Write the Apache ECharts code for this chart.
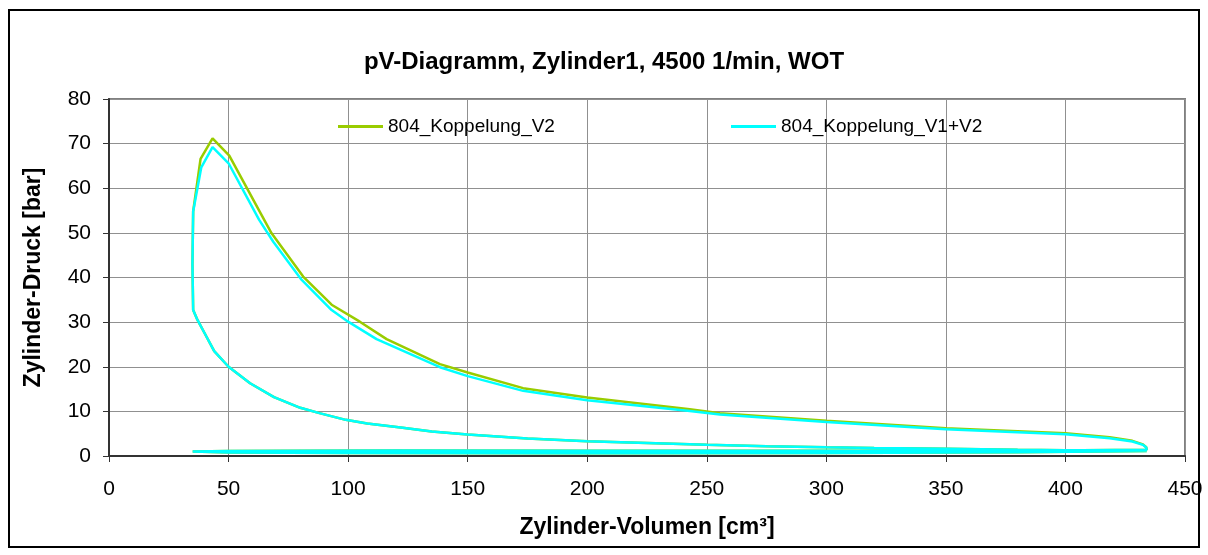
<!DOCTYPE html>
<html>
<head>
<meta charset="utf-8">
<script src="https://cdn.jsdelivr.net/npm/echarts@6/dist/echarts.min.js"></script>
<style>
  html, body { margin: 0; padding: 0; background: #fff; }
  #chart { width: 1208px; height: 555px; }
</style>
</head>
<body>
<div id="chart"></div>
<script>
  // Volumen [cm³] und Druck [bar], Reihenfolge entlang des Zyklus
  // Verdichtung (beide Varianten gleich)
  const compVol = [434, 420, 400, 380, 350, 320, 300, 275, 250, 225, 200, 175, 150, 135, 122, 108, 99, 88, 80, 69, 59, 50, 44, 40, 37, 35.2, 34.9, 35.2];
  const compP   = [1.1, 1.2, 1.3, 1.4, 1.6, 1.8, 1.95, 2.2, 2.5, 2.9, 3.3, 3.9, 4.8, 5.5, 6.4, 7.3, 8.1, 9.6, 10.8, 13.2, 16.3, 20, 23.5, 27.5, 30.5, 32.7, 43, 54.8];

  // Verbrennung + Expansion
  const expVol     = [38.3, 43.3, 50.3, 62.8, 68, 81.2, 93.1, 104.9, 116.1, 138.4, 150, 173.2, 200, 242.9, 255.5, 300, 350, 372.5, 400, 418.5, 428, 432.4, 433.8, 434];
  const expP_V2    = [66.6, 71.2, 67.3, 55, 49.9, 40.2, 33.9, 30.1, 26.2, 20.6, 18.7, 15.2, 13.1, 10.5, 9.6, 7.9, 6.2, 5.7, 5.1, 4.2, 3.4, 2.6, 1.95, 1.4];
  const expVol_V1V2 = [38.6, 43.3, 50, 62.8, 68.7, 80.5, 93.1, 100, 111.9, 138.4, 150, 173.2, 200, 242.9, 255.5, 300, 350, 372.5, 400, 418.5, 428, 432.4, 433.8, 434];
  const expP_V1V2  = [64.7, 69.2, 65.6, 52.9, 48.0, 39.5, 32.7, 30.1, 26.2, 19.9, 17.9, 14.6, 12.5, 10.1, 9.3, 7.6, 6.0, 5.5, 4.9, 4.0, 3.25, 2.5, 1.9, 1.4];

  // Ladungswechsel (Ausschieben, dann Ansaugen)
  const gasVol = [434, 380, 300, 200, 120, 80, 50, 35, 35, 50, 100, 200, 300, 380, 434];
  const gasP   = [1.3, 1.2, 1.15, 1.2, 1.25, 1.2, 1.1, 1.0, 0.95, 0.8, 0.7, 0.6, 0.7, 0.85, 1.1];

  const xTicks = [0, 450, 50];
  const yTicks = [0, 80, 10];

  function loop(eVol, eP) {
    const pts = [];
    compVol.forEach((v, i) => pts.push([v, compP[i]]));
    eVol.forEach((v, i) => pts.push([v, eP[i]]));
    gasVol.forEach((v, i) => pts.push([v, gasP[i]]));
    return pts;
  }

  const font = 'Liberation Sans, Arial, sans-serif';
  let chart = echarts.init(document.getElementById('chart'));
  chart.setOption({
    animation: false,
    title: {
      text: 'pV-Diagramm, Zylinder1, 4500 1/min, WOT',
      left: 'center',
      top: 45,
      textStyle: { fontFamily: font, fontSize: 24, fontWeight: 'bold', color: '#000' }
    },
    legend: [
      {
        left: 333, top: 112,
        data: ['804_Koppelung_V2'],
        icon: 'rect', itemWidth: 45, itemHeight: 3,
        textStyle: { fontFamily: font, fontSize: 19, color: '#000' }
      },
      {
        left: 726, top: 112,
        data: ['804_Koppelung_V1+V2'],
        icon: 'rect', itemWidth: 45, itemHeight: 3,
        textStyle: { fontFamily: font, fontSize: 19, color: '#000' }
      }
    ],
    grid: {
      left: 109, top: 99, right: 23, bottom: 99,
      show: true, borderColor: '#808080', borderWidth: 2
    },
    xAxis: {
      type: 'value',
      min: xTicks[0], max: xTicks[1], interval: xTicks[2],
      name: 'Zylinder-Volumen [cm³]',
      nameLocation: 'middle', nameGap: 60,
      nameTextStyle: { fontFamily: font, fontSize: 23, fontWeight: 'bold', color: '#000' },
      axisLine: { show: true, lineStyle: { color: '#333', width: 2 } },
      axisTick: { show: true, length: 6, lineStyle: { color: '#333' } },
      axisLabel: { fontFamily: font, fontSize: 21, color: '#000', margin: 23 },
      splitLine: { show: true, lineStyle: { color: '#909090', width: 1 } }
    },
    yAxis: {
      type: 'value',
      min: yTicks[0], max: yTicks[1], interval: yTicks[2],
      name: 'Zylinder-Druck [bar]',
      nameLocation: 'middle', nameGap: 64,
      nameTextStyle: { fontFamily: font, fontSize: 23, fontWeight: 'bold', color: '#000' },
      axisLine: { show: true, lineStyle: { color: '#333', width: 2 } },
      axisTick: { show: true, length: 6, lineStyle: { color: '#333' } },
      axisLabel: { fontFamily: font, fontSize: 21, color: '#000', margin: 18 },
      splitLine: { show: true, lineStyle: { color: '#909090', width: 1 } }
    },
    series: [
      {
        name: '804_Koppelung_V2',
        type: 'line',
        symbol: 'none',
        color: '#99CC00',
        lineStyle: { width: 2.5, color: '#99CC00' },
        data: loop(expVol, expP_V2)
      },
      {
        name: '804_Koppelung_V1+V2',
        type: 'line',
        symbol: 'none',
        color: '#00FFFF',
        lineStyle: { width: 2.5, color: '#00FFFF' },
        data: loop(expVol_V1V2, expP_V1V2)
      }
    ],
    graphic: [
      {
        type: 'rect',
        shape: { x: 9, y: 10, width: 1190, height: 537 },
        style: { fill: 'none', stroke: '#000', lineWidth: 2 },
        silent: true
      }
    ]
  });
</script>
</body>
</html>
